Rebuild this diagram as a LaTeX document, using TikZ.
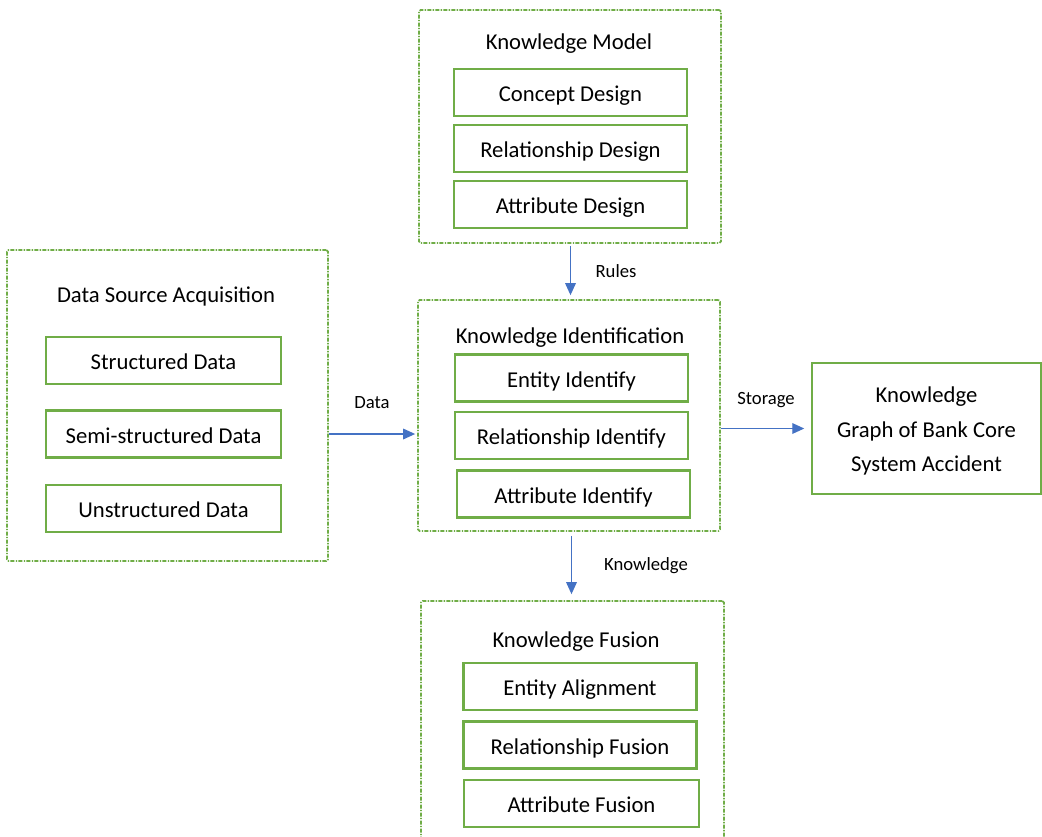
\documentclass[tikz,border=0pt]{standalone}
\usepackage{fontspec}
\setmainfont{Carlito}
\usetikzlibrary{arrows.meta}

\definecolor{boxgreen}{RGB}{112,173,71}
\definecolor{arrowblue}{RGB}{68,114,196}

\tikzset{every picture/.style={line width=0.75pt}}
\tikzset{
  groupbox/.style={draw=boxgreen, line width=1.3pt, rounded corners=1.2pt,
    dash pattern=on 3pt off 1pt on 1pt off 1pt, inner sep=0pt},
  itembox/.style={draw=boxgreen, line width=1.6pt, inner sep=0pt,
    minimum width=174.75pt, minimum height=35.25pt, text height=16pt, text depth=2.2pt,
    font=\fontsize{17}{20}\selectfont},
  grouptitle/.style={font=\fontsize{17}{20}\selectfont},
  flowlabel/.style={font=\fontsize{14}{17}\selectfont},
  flow/.style={draw=arrowblue, line width=0.9pt, -{Triangle[length=9pt,width=8pt]}}
}

\begin{document}
\begin{tikzpicture}[x=0.75pt,y=0.75pt,yscale=-1]
  \clip (0,0) rectangle (1042,836);
  \fill[white] (0,0) rectangle (1042,836);

  %Knowledge Model
  \node[groupbox, minimum width=226.5pt, minimum height=174.75pt] (model) at (570,126.5) {};
  \node[grouptitle] (modeltitle) at (569,44) {Knowledge Model};
  \node[itembox] (concept) at (570.5,92.5) {Concept Design};
  \node[itembox] (reldesign) at (570.5,148.5) {Relationship Design};
  \node[itembox] (attrdesign) at (570.5,204.5) {Attribute Design};

  %Data Source Acquisition
  \node[groupbox, minimum width=240.75pt, minimum height=233.25pt] (source) at (167.5,405.5) {};
  \node[grouptitle] (sourcetitle) at (166,296) {Data Source Acquisition};
  \node[itembox, minimum width=176.25pt] (structured) at (163.5,360.5) {Structured Data};
  \node[itembox, minimum width=176.25pt] (semi) at (163.5,434) {Semi-structured Data};
  \node[itembox, minimum width=176.25pt] (unstructured) at (163.5,508.5) {Unstructured Data};

  %Knowledge Identification
  \node[groupbox, minimum width=226.5pt, minimum height=173.25pt] (ident) at (569,415.5) {};
  \node[grouptitle] (identtitle) at (570,338) {Knowledge Identification};
  \node[itembox] (entityid) at (571.5,378) {Entity Identify};
  \node[itembox] (relid) at (571.5,435.5) {Relationship Identify};
  \node[itembox] (attrid) at (573.5,494) {Attribute Identify};

  %Knowledge Graph
  \node[draw=boxgreen, line width=1.6pt, minimum width=171.75pt, minimum height=98.25pt] (graph) at (926.5,428.5) {};
  \node[align=center, font=\fontsize{17}{26}\selectfont] (graphtext) at (926.5,431)
    {Knowledge\\Graph of Bank Core\\System Accident};

  %Knowledge Fusion
  \node[groupbox, minimum width=227.25pt, minimum height=186.75pt] (fusion) at (572.5,725.5) {};
  \node[grouptitle] (fusiontitle) at (576,642) {Knowledge Fusion};
  \node[itembox] (align) at (580,686.5) {Entity Alignment};
  \node[itembox] (relfusion) at (580,745) {Relationship Fusion};
  \node[itembox, minimum width=176.25pt] (attrfusion) at (581.5,803.5) {Attribute Fusion};

  %Arrows
  \draw[flow, shorten <=1.5pt, shorten >=3pt] (model.south -| concept) -- (ident.north -| concept);
  \draw[flow, shorten >=1.5pt] (source.east |- semi) -- (ident.west |- semi);
  \draw[flow, shorten >=5pt] (ident.east |- graph) -- (graph.west);
  \draw[flow, shorten <=3pt, shorten >=4.5pt] (ident.south -| relid) -- (fusion.north -| relid);

  % Text Node
  \node[flowlabel] (rules) at (616,271) {Rules};
  % Text Node
  \node[flowlabel] (data) at (372,403) {Data};
  % Text Node
  \node[flowlabel] (storage) at (766,400) {Storage};
  % Text Node
  \node[flowlabel] (knowledge) at (646,566) {Knowledge};
\end{tikzpicture}
\end{document}
